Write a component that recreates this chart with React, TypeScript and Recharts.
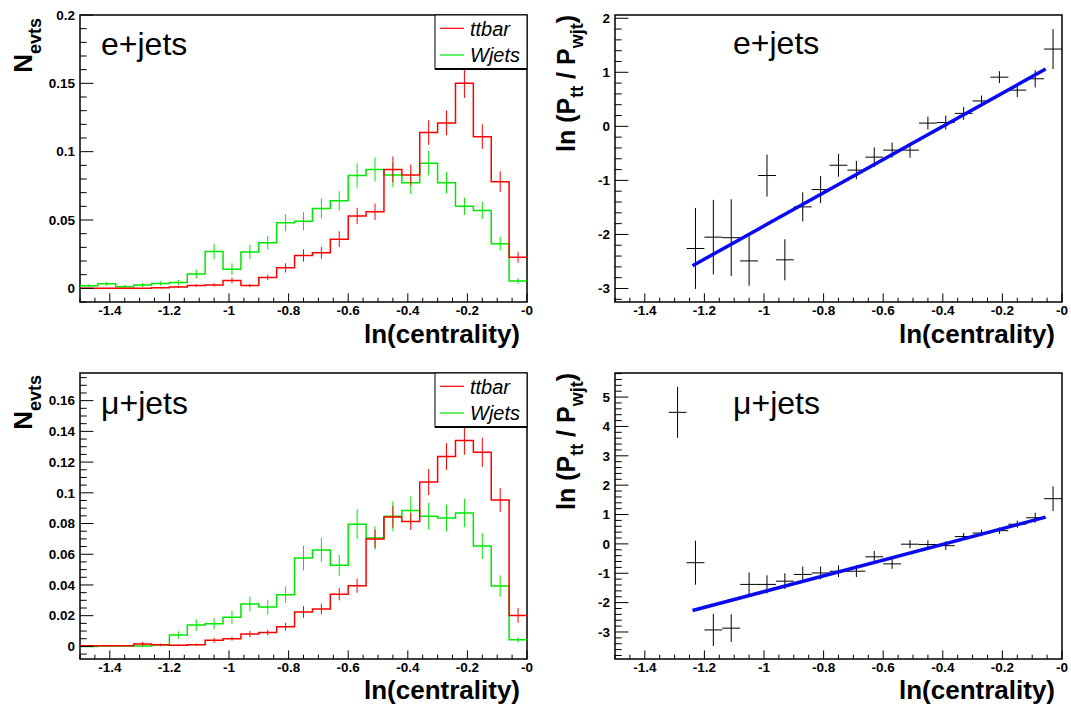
import React from "react";
import {
  ComposedChart,
  ErrorBar,
  Line,
  ReferenceArea,
  Scatter,
  XAxis,
  YAxis,
} from "recharts";

const FONT = '"Liberation Sans", Arial, Helvetica, sans-serif';
const RED = "#ff0000";
const GREEN = "#00e800";
const BLUE = "#0a0af0";

// bins of ln(centrality), width 0.06
const binCenters = [
  -1.47, -1.41, -1.35, -1.29, -1.23, -1.17, -1.11, -1.05, -0.99, -0.93, -0.87, -0.81, -0.75,
  -0.69, -0.63, -0.57, -0.51, -0.45, -0.39, -0.33, -0.27, -0.21, -0.15, -0.09, -0.03,
];
const BIN_HALF = 0.03;

// e+jets histograms
const eTtbar = [
  0, 0, 0, 0, 0.0005, 0.001, 0.002, 0.0025, 0.0058, 0.002, 0.008, 0.015, 0.024, 0.026, 0.036,
  0.053, 0.056, 0.087, 0.083, 0.114, 0.121, 0.15, 0.111, 0.078, 0.0227,
];
const eTtbarErr = [
  0, 0, 0, 0, 0.0005, 0.0008, 0.001, 0.0012, 0.002, 0.0012, 0.002, 0.0034, 0.0045, 0.0043,
  0.0057, 0.006, 0.006, 0.0095, 0.0076, 0.009, 0.009, 0.0107, 0.009, 0.0076, 0.004,
];
const eWjets = [
  0.0019, 0.0033, 0.0012, 0.0024, 0.0036, 0.0043, 0.0105, 0.027, 0.014, 0.0266, 0.0334, 0.048,
  0.049, 0.0585, 0.064, 0.0825, 0.087, 0.083, 0.0773, 0.0915, 0.0773, 0.06, 0.057, 0.0327,
  0.0054,
];
const eWjetsErr = [
  0.0012, 0.0015, 0.0012, 0.0015, 0.0015, 0.0018, 0.0033, 0.0057, 0.0043, 0.0052, 0.005,
  0.0063, 0.0067, 0.0074, 0.007, 0.0089, 0.0088, 0.009, 0.0083, 0.009, 0.0078, 0.0063, 0.0063,
  0.005, 0.002,
];

// mu+jets histograms
const muTtbar = [
  0.0004, 0.0004, 0.0004, 0.0015, 0.001, 0.0007, 0.001, 0.004, 0.005, 0.008, 0.009, 0.0128,
  0.0224, 0.0243, 0.034, 0.0395, 0.07, 0.0843, 0.0814, 0.107, 0.1236, 0.134, 0.1264, 0.0953,
  0.0202,
];
const muTtbarErr = [
  0.0004, 0.0004, 0.0004, 0.0013, 0.0008, 0.0006, 0.0008, 0.0016, 0.0013, 0.002, 0.0018,
  0.0025, 0.0038, 0.0035, 0.004, 0.0046, 0.006, 0.007, 0.0056, 0.0085, 0.0087, 0.0092, 0.0095,
  0.0078, 0.0048,
];
const muWjets = [
  0, 0.0002, 0.0002, 0.0002, 0.0009, 0.0074, 0.0139, 0.0148, 0.019, 0.0276, 0.0256, 0.0337,
  0.0575, 0.0628, 0.0528, 0.0795, 0.0706, 0.0847, 0.0884, 0.0847, 0.0836, 0.0869, 0.0654,
  0.0393, 0.0043,
];
const muWjetsErr = [
  0, 0.0003, 0.0003, 0.0003, 0.0008, 0.0024, 0.0038, 0.0036, 0.0043, 0.0049, 0.0047, 0.0054,
  0.008, 0.0078, 0.0068, 0.0098, 0.0076, 0.0098, 0.0092, 0.0087, 0.0087, 0.0093, 0.0084, 0.007,
  0.0018,
];

// ln(P_tt / P_wjt) points
const eRatioX = [
  -1.23, -1.17, -1.11, -1.05, -0.99, -0.93, -0.87, -0.81, -0.75, -0.69, -0.63, -0.57, -0.51,
  -0.45, -0.39, -0.33, -0.27, -0.21, -0.15, -0.09, -0.03,
];
const eRatio = [
  -2.26, -2.05, -2.06, -2.49, -0.91, -2.47, -1.49, -1.17, -0.72, -0.81, -0.57, -0.44, -0.44,
  0.06, 0.07, 0.24, 0.47, 0.91, 0.67, 0.88, 1.43,
];
const eRatioErr = [
  0.75, 0.69, 0.71, 0.46, 0.39, 0.38, 0.27, 0.25, 0.21, 0.17, 0.18, 0.14, 0.14, 0.12, 0.13,
  0.12, 0.1, 0.11, 0.13, 0.16, 0.37,
];
const eFit = [
  { x: -1.24, y: -2.58 },
  { x: -0.055, y: 1.06 },
];

const muRatioX = [
  -1.29, -1.23, -1.17, -1.11, -1.05, -0.99, -0.93, -0.87, -0.81, -0.75, -0.69, -0.63, -0.57,
  -0.51, -0.45, -0.39, -0.33, -0.27, -0.21, -0.15, -0.09, -0.03,
];
const muRatio = [
  4.48, -0.64, -2.93, -2.87, -1.38, -1.38, -1.27, -1.04, -0.99, -0.93, -0.93, -0.44, -0.68,
  -0.01, -0.02, -0.06, 0.25, 0.37, 0.45, 0.67, 0.89, 1.54,
];
const muRatioErr = [
  0.87, 0.75, 0.55, 0.47, 0.41, 0.31, 0.27, 0.27, 0.22, 0.2, 0.2, 0.2, 0.17, 0.14, 0.14, 0.15,
  0.12, 0.11, 0.11, 0.12, 0.17, 0.42,
];
const muFit = [
  { x: -1.24, y: -2.27 },
  { x: -0.055, y: 0.91 },
];

// axes
const xDomain: [number, number] = [-1.5, 0];
const xMajor = [-1.4, -1.2, -1, -0.8, -0.6, -0.4, -0.2, 0];
const xLabels = ["-1.4", "-1.2", "-1", "-0.8", "-0.6", "-0.4", "-0.2", "-0"];

const eHistMajor = [0, 0.05, 0.1, 0.15, 0.2];
const eHistLabels = ["0", "0.05", "0.1", "0.15", "0.2"];
const muHistMajor = [0, 0.02, 0.04, 0.06, 0.08, 0.1, 0.12, 0.14, 0.16];
const muHistLabels = ["0", "0.02", "0.04", "0.06", "0.08", "0.1", "0.12", "0.14", "0.16"];
const eRatioMajor = [-3, -2, -1, 0, 1, 2];
const eRatioLabels = ["-3", "-2", "-1", "0", "1", "2"];
const muRatioMajor = [-3, -2, -1, 0, 1, 2, 3, 4, 5];
const muRatioLabels = ["-3", "-2", "-1", "0", "1", "2", "3", "4", "5"];

function stepTicks(from: number, to: number, step: number): number[] {
  const out: number[] = [];
  const n = Math.round((to - from) / step);
  for (let i = 0; i <= n; i++) out.push(Math.round((from + i * step) * 10000) / 10000);
  return out;
}

function histPoints(values: number[]) {
  const pts = binCenters.map((c, i) => ({ x: Math.round((c - BIN_HALF) * 1000) / 1000, y: values[i] }));
  pts.push({ x: xDomain[1], y: values[values.length - 1] });
  return pts;
}

function barPoints(xs: number[], values: number[], errs: number[]) {
  return xs.map((x, i) => ({ x, y: values[i], ey: errs[i], ex: BIN_HALF }));
}

function findMajor(majors: number[], v: number) {
  return majors.findIndex((m) => Math.abs(m - v) < 1e-6);
}

function makeXTick(len: number) {
  return (props: any) => {
    const { x, y, payload } = props;
    const idx = findMajor(xMajor, payload.value);
    const l = idx >= 0 ? len : len / 2;
    return (
      <g>
        <line x1={x} x2={x} y1={y} y2={y - l} stroke="#000" strokeWidth={1} />
        {idx >= 0 && (
          <text x={x} y={y + 13} textAnchor="middle" fontFamily={FONT} fontWeight="bold" fontSize={13.5} fill="#000">
            {xLabels[idx]}
          </text>
        )}
      </g>
    );
  };
}

function makeYTick(majors: number[], labels: string[], len: number) {
  return (props: any) => {
    const { x, y, payload } = props;
    const idx = findMajor(majors, payload.value);
    const l = idx >= 0 ? len : len / 2;
    return (
      <g>
        <line x1={x} x2={x + l} y1={y} y2={y} stroke="#000" strokeWidth={1} />
        {idx >= 0 && (
          <text x={x - 5} y={y + 4.7} textAnchor="end" fontFamily={FONT} fontWeight="bold" fontSize={13.5} fill="#000">
            {labels[idx]}
          </text>
        )}
      </g>
    );
  };
}

const noShape = () => <g />;

interface PanelProps {
  left: number;
  top: number;
  width: number;
  marginTop: number;
  xAxisHeight: number;
  yDomain: [number, number];
  yTicks: number[];
  yMajor: number[];
  yLabels: string[];
  children: React.ReactNode;
}

function Panel({ left, top, width, marginTop, xAxisHeight, yDomain, yTicks, yMajor, yLabels, children }: PanelProps) {
  const height = 355;
  const plotW = 527 - 80;
  const plotH = height - marginTop - xAxisHeight;
  return (
    <div style={{ position: "absolute", left, top, width, height }}>
      <ComposedChart width={width} height={height} margin={{ top: marginTop, right: width - 527, bottom: 0, left: 0 }}>
        <XAxis
          type="number"
          dataKey="x"
          domain={xDomain}
          allowDataOverflow
          ticks={stepTicks(-1.5, 0, 0.05)}
          interval={0}
          height={xAxisHeight}
          axisLine={false}
          tickLine={false}
          tickSize={0}
          tickMargin={0}
          tick={makeXTick(plotH * 0.03)}
        />
        <YAxis
          type="number"
          domain={yDomain}
          allowDataOverflow
          ticks={yTicks}
          interval={0}
          width={80}
          axisLine={false}
          tickLine={false}
          tickSize={0}
          tickMargin={0}
          tick={makeYTick(yMajor, yLabels, plotW * 0.03)}
        />
        {children}
        <ReferenceArea
          x1={xDomain[0]}
          x2={xDomain[1]}
          y1={yDomain[0]}
          y2={yDomain[1]}
          fill="none"
          fillOpacity={0}
          stroke="#000"
          strokeWidth={1.5}
          ifOverflow="visible"
        />
      </ComposedChart>
    </div>
  );
}

function histSeries(values: number[], errs: number[], color: string, key: string) {
  return [
    <Line
      key={key + "-line"}
      data={histPoints(values)}
      dataKey="y"
      type="stepAfter"
      stroke={color}
      strokeWidth={1.5}
      dot={false}
      activeDot={false}
      isAnimationActive={false}
    />,
    <Scatter
      key={key + "-err"}
      data={barPoints(binCenters, values, errs)}
      dataKey="y"
      shape={noShape}
      isAnimationActive={false}
    >
      <ErrorBar dataKey="ey" direction="y" width={0} stroke={color} strokeWidth={1} />
    </Scatter>,
  ];
}

function ratioSeries(xs: number[], values: number[], errs: number[], fit: { x: number; y: number }[], key: string) {
  return [
    <Scatter key={key + "-pts"} data={barPoints(xs, values, errs)} dataKey="y" shape={noShape} isAnimationActive={false}>
      <ErrorBar dataKey="ey" direction="y" width={0} stroke="#000" strokeWidth={1} />
      <ErrorBar dataKey="ex" direction="x" width={0} stroke="#000" strokeWidth={1} />
    </Scatter>,
    <Line
      key={key + "-fit"}
      data={fit}
      dataKey="y"
      type="linear"
      stroke={BLUE}
      strokeWidth={3.5}
      dot={false}
      activeDot={false}
      isAnimationActive={false}
    />,
  ];
}

const textStyle = { fontFamily: FONT, fill: "#000" };

function NevtsTitle({ x, y }: { x: number; y: number }) {
  return (
    <text transform={`translate(${x},${y}) rotate(-90)`} textAnchor="end" fontWeight="bold" {...textStyle}>
      <tspan fontSize={26}>N</tspan>
      <tspan fontSize={18} dy={9}>evts</tspan>
    </text>
  );
}

function RatioTitle({ x, y }: { x: number; y: number }) {
  return (
    <text transform={`translate(${x},${y}) rotate(-90)`} textAnchor="end" fontWeight="bold" {...textStyle}>
      <tspan fontSize={25}>ln (P</tspan>
      <tspan fontSize={18} dy={8}>tt</tspan>
      <tspan fontSize={25} dy={-8}> / P</tspan>
      <tspan fontSize={18} dy={8}>wjt</tspan>
      <tspan fontSize={25} dy={-8}>)</tspan>
    </text>
  );
}

function LegendBox({ top }: { top: number }) {
  return (
    <g>
      <rect x={435} y={top} width={92} height={54} fill="#fff" stroke="#000" strokeWidth={1} />
      <line x1={435} x2={527} y1={top + 54} y2={top + 54} stroke="#000" strokeWidth={2} />
      <line x1={440} x2={464} y1={top + 13.3} y2={top + 13.3} stroke={RED} strokeWidth={1.2} />
      <text x={470} y={top + 20.5} fontSize={20} fontStyle="italic" {...textStyle}>
        ttbar
      </text>
      <line x1={440} x2={464} y1={top + 40} y2={top + 40} stroke={GREEN} strokeWidth={1.2} />
      <text x={470} y={top + 46.5} fontSize={20} fontStyle="italic" {...textStyle}>
        Wjets
      </text>
    </g>
  );
}

export default function App() {
  return (
    <div style={{ position: "absolute", left: 0, top: 0, width: 1071, height: 710, background: "#fff", overflow: "hidden" }}>
      <Panel
        left={0}
        top={0}
        width={535}
        marginTop={15}
        xAxisHeight={53}
        yDomain={[-0.01, 0.2]}
        yTicks={stepTicks(-0.01, 0.2, 0.01)}
        yMajor={eHistMajor}
        yLabels={eHistLabels}
      >
        {histSeries(eWjets, eWjetsErr, GREEN, "ew")}
        {histSeries(eTtbar, eTtbarErr, RED, "et")}
      </Panel>
      <Panel
        left={535}
        top={0}
        width={536}
        marginTop={15}
        xAxisHeight={53}
        yDomain={[-3.25, 2.06]}
        yTicks={stepTicks(-3.2, 2, 0.2)}
        yMajor={eRatioMajor}
        yLabels={eRatioLabels}
      >
        {ratioSeries(eRatioX, eRatio, eRatioErr, eFit, "er")}
      </Panel>
      <Panel
        left={0}
        top={355}
        width={535}
        marginTop={18}
        xAxisHeight={51}
        yDomain={[-0.0082, 0.178]}
        yTicks={stepTicks(-0.005, 0.175, 0.005)}
        yMajor={muHistMajor}
        yLabels={muHistLabels}
      >
        {histSeries(muWjets, muWjetsErr, GREEN, "mw")}
        {histSeries(muTtbar, muTtbarErr, RED, "mt")}
      </Panel>
      <Panel
        left={535}
        top={355}
        width={536}
        marginTop={18}
        xAxisHeight={51}
        yDomain={[-3.92, 5.82]}
        yTicks={stepTicks(-3.8, 5.8, 0.2)}
        yMajor={muRatioMajor}
        yLabels={muRatioLabels}
      >
        {ratioSeries(muRatioX, muRatio, muRatioErr, muFit, "mr")}
      </Panel>

      <svg width={1071} height={710} style={{ position: "absolute", left: 0, top: 0, pointerEvents: "none" }}>
        <text x={101} y={55} fontSize={32} {...textStyle}>e+jets</text>
        <text x={733} y={54} fontSize={32} {...textStyle}>e+jets</text>
        <text x={101} y={414} fontSize={32} {...textStyle}>μ+jets</text>
        <text x={733} y={414} fontSize={32} {...textStyle}>μ+jets</text>

        <text x={520} y={342.5} textAnchor="end" fontSize={26} fontWeight="bold" {...textStyle}>ln(centrality)</text>
        <text x={1055} y={342.5} textAnchor="end" fontSize={26} fontWeight="bold" {...textStyle}>ln(centrality)</text>
        <text x={520} y={699} textAnchor="end" fontSize={26} fontWeight="bold" {...textStyle}>ln(centrality)</text>
        <text x={1055} y={699} textAnchor="end" fontSize={26} fontWeight="bold" {...textStyle}>ln(centrality)</text>

        <NevtsTitle x={32} y={18} />
        <NevtsTitle x={32} y={375} />
        <RatioTitle x={575} y={15} />
        <RatioTitle x={575} y={373} />

        <LegendBox top={15} />
        <LegendBox top={373} />
      </svg>
    </div>
  );
}
